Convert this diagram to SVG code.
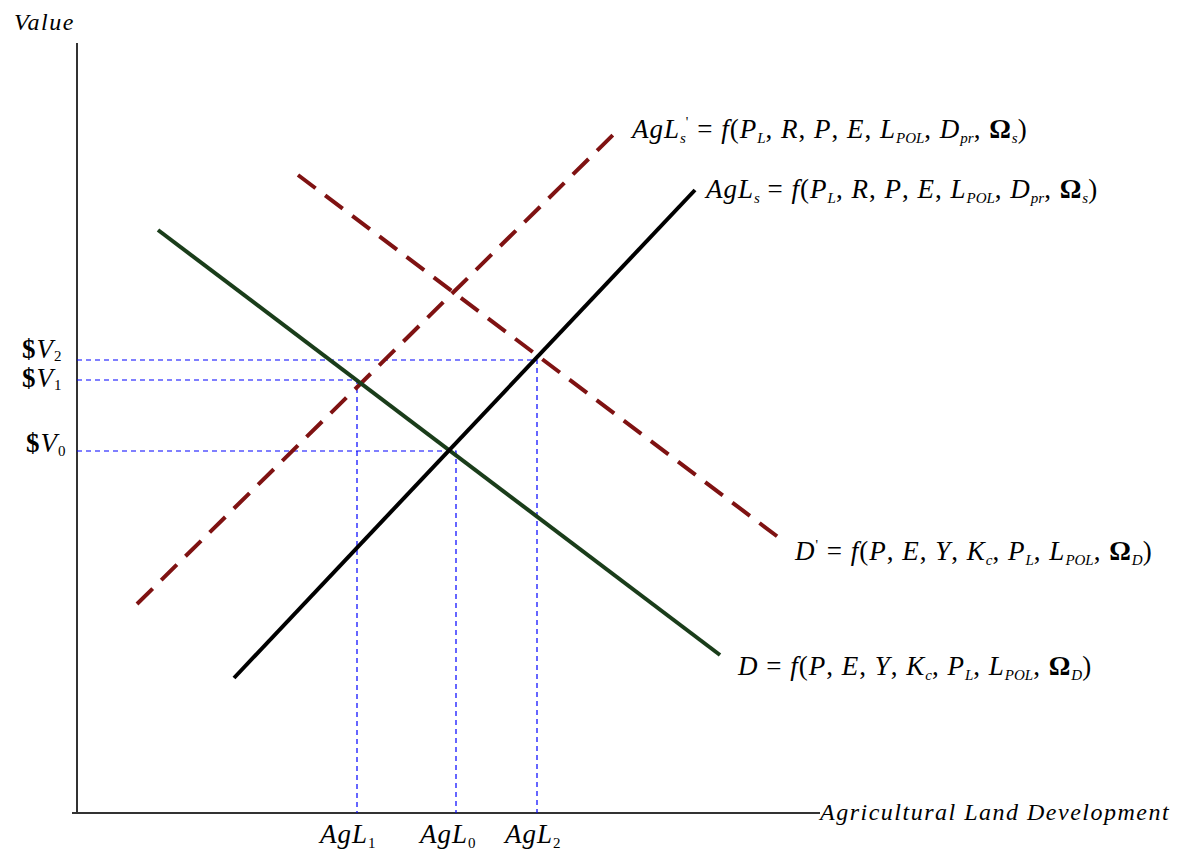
<svg xmlns="http://www.w3.org/2000/svg" width="1185" height="856" viewBox="0 0 1185 856">
<style>
.axis{stroke:#333;stroke-width:2;fill:none}
.guide{stroke:#0000ff;stroke-width:1.2;stroke-dasharray:5 4;fill:none}
.dem{stroke:#1a3d1a;stroke-width:4;fill:none}
.sup{stroke:#000;stroke-width:4;fill:none}
.shift{stroke:#7f1212;stroke-width:4;stroke-dasharray:22 12;fill:none}
text{font-family:"Liberation Serif","Times New Roman",serif;font-style:italic;fill:#000}
.eq{font-size:27px;letter-spacing:1px}
.sub{font-size:15px;letter-spacing:0}
.up{font-style:normal}
.lbl{font-size:24px;letter-spacing:1.5px}
</style>
<rect width="1185" height="856" fill="#fff"/>
<g id="axes">
<line class="axis" x1="77" y1="43" x2="77" y2="814"/>
<line class="axis" x1="72" y1="813" x2="820" y2="813"/>
<text id="value" class="lbl" x="14" y="30">Value</text>
<text id="xlabel" class="lbl" x="820" y="820">Agricultural Land Development</text>
</g>
<g id="connectors">
<polyline class="guide" points="77,360 537,360 537,813"/>
<polyline class="guide" points="77,380 357,380 357,813"/>
<polyline class="guide" points="77,451 456,451 456,813"/>
</g>
<g id="curve-S-prime"><line class="shift" x1="137" y1="604" x2="620" y2="128"/></g>
<g id="curve-D-prime"><line class="shift" x1="298" y1="175" x2="782" y2="540"/></g>
<g id="curve-D"><line class="dem" x1="158" y1="230" x2="720" y2="655"/></g>
<g id="curve-S"><line class="sup" x1="234" y1="678" x2="695" y2="190"/></g>
<g id="label-S-prime">
<text class="eq" x="632" y="138">AgL<tspan class="sub" dy="5">s</tspan><tspan class="up" dy="-16" font-size="14">'</tspan><tspan class="up" dy="11"> = </tspan>f<tspan class="up">(</tspan>P<tspan class="sub" dy="5">L</tspan><tspan class="up" dy="-5">, </tspan>R<tspan class="up">, </tspan>P<tspan class="up">, </tspan>E<tspan class="up">, </tspan>L<tspan class="sub" dy="5">POL</tspan><tspan class="up" dy="-5">, </tspan>D<tspan class="sub" dy="5">pr</tspan><tspan class="up" dy="-5">, </tspan><tspan class="up" font-weight="bold">Ω</tspan><tspan class="sub" dy="5">s</tspan><tspan class="up" dy="-5">)</tspan></text>
</g>
<g id="label-S">
<text class="eq" x="706" y="198">AgL<tspan class="sub" dy="5">s</tspan><tspan class="up" dy="-5"> = </tspan>f<tspan class="up">(</tspan>P<tspan class="sub" dy="5">L</tspan><tspan class="up" dy="-5">, </tspan>R<tspan class="up">, </tspan>P<tspan class="up">, </tspan>E<tspan class="up">, </tspan>L<tspan class="sub" dy="5">POL</tspan><tspan class="up" dy="-5">, </tspan>D<tspan class="sub" dy="5">pr</tspan><tspan class="up" dy="-5">, </tspan><tspan class="up" font-weight="bold">Ω</tspan><tspan class="sub" dy="5">s</tspan><tspan class="up" dy="-5">)</tspan></text>
</g>
<g id="label-D-prime">
<text class="eq" x="795" y="560">D<tspan class="up" dy="-10" font-size="14">'</tspan><tspan class="up" dy="10"> = </tspan>f<tspan class="up">(</tspan>P<tspan class="up">, </tspan>E<tspan class="up">, </tspan>Y<tspan class="up">, </tspan>K<tspan class="sub" dy="5">c</tspan><tspan class="up" dy="-5">, </tspan>P<tspan class="sub" dy="5">L</tspan><tspan class="up" dy="-5">, </tspan>L<tspan class="sub" dy="5">POL</tspan><tspan class="up" dy="-5">, </tspan><tspan class="up" font-weight="bold">Ω</tspan><tspan class="sub" dy="5">D</tspan><tspan class="up" dy="-5">)</tspan></text>
</g>
<g id="label-D">
<text class="eq" x="738" y="675">D<tspan class="up"> = </tspan>f<tspan class="up">(</tspan>P<tspan class="up">, </tspan>E<tspan class="up">, </tspan>Y<tspan class="up">, </tspan>K<tspan class="sub" dy="5">c</tspan><tspan class="up" dy="-5">, </tspan>P<tspan class="sub" dy="5">L</tspan><tspan class="up" dy="-5">, </tspan>L<tspan class="sub" dy="5">POL</tspan><tspan class="up" dy="-5">, </tspan><tspan class="up" font-weight="bold">Ω</tspan><tspan class="sub" dy="5">D</tspan><tspan class="up" dy="-5">)</tspan></text>
</g>
<g id="label-V2"><text class="eq" x="22" y="358"><tspan class="up" font-weight="bold">$</tspan>V<tspan class="sub up" dy="3">2</tspan></text></g>
<g id="label-V1"><text class="eq" x="22" y="387"><tspan class="up" font-weight="bold">$</tspan>V<tspan class="sub up" dy="3">1</tspan></text></g>
<g id="label-V0"><text class="eq" x="26" y="452"><tspan class="up" font-weight="bold">$</tspan>V<tspan class="sub up" dy="4">0</tspan></text></g>
<g id="label-AgL1"><text class="eq" x="320" y="843">AgL<tspan class="sub up" dy="5">1</tspan></text></g>
<g id="label-AgL0"><text class="eq" x="420" y="843">AgL<tspan class="sub up" dy="5">0</tspan></text></g>
<g id="label-AgL2"><text class="eq" x="505" y="843">AgL<tspan class="sub up" dy="5">2</tspan></text></g>
</svg>
